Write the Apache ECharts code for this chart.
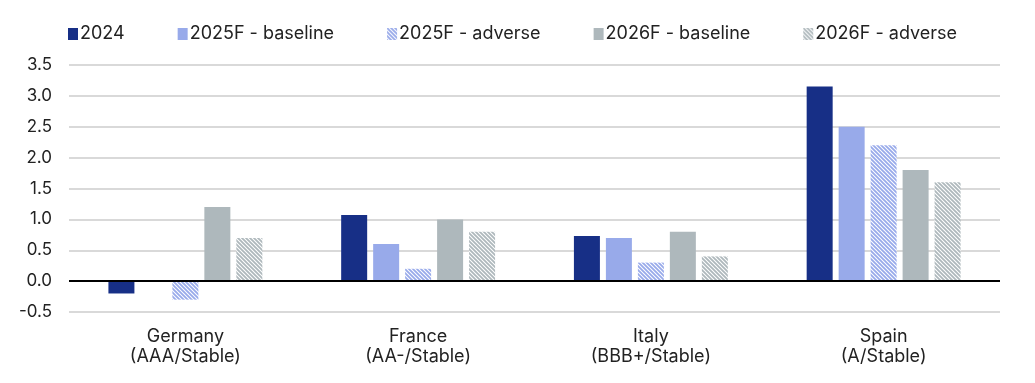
<!DOCTYPE html>
<html><head><meta charset="utf-8">
<script src="https://cdn.jsdelivr.net/npm/echarts@6/dist/echarts.min.js"></script>
<style>html,body{margin:0;padding:0;background:#fff}#c{width:1035px;height:383px}</style>
</head><body><div id="c"></div>
<script>
const categories = ['Germany\n(AAA/Stable)', 'France\n(AA-/Stable)', 'Italy\n(BBB+/Stable)', 'Spain\n(A/Stable)'];
const seriesNames = ['2024', '2025F - baseline', '2025F - adverse', '2026F - baseline', '2026F - adverse'];
const v2024 = [-0.2, 1.07, 0.73, 3.15];
const v2025Base = [0, 0.6, 0.7, 2.5];
const v2025Adv = [-0.3, 0.2, 0.3, 2.2];
const v2026Base = [1.2, 1.0, 0.8, 1.8];
const v2026Adv = [0.7, 0.8, 0.4, 1.6];
const yTicks = [-0.5, 0, 0.5, 1, 1.5, 2, 2.5, 3, 3.5];

function stripes(color) {
  const s = 4;
  const c = document.createElement('canvas');
  c.width = s; c.height = s;
  const g = c.getContext('2d');
  g.fillStyle = '#fff'; g.fillRect(0, 0, s, s);
  g.strokeStyle = color; g.lineWidth = 1.8;
  g.beginPath();
  g.moveTo(-1, -1); g.lineTo(s + 1, s + 1);
  g.moveTo(-1, s - 1); g.lineTo(1, s + 1);
  g.moveTo(s - 1, -1); g.lineTo(s + 1, 1);
  g.stroke();
  return { image: c, repeat: 'repeat' };
}

const colors = ['#172F86', '#98AAEA', stripes('#98AAEA'), '#AEB8BC', stripes('#AEB8BC')];
const values = [v2024, v2025Base, v2025Adv, v2026Base, v2026Adv];

const chart = echarts.init(document.getElementById('c'), null, { renderer: 'canvas' });
const font = 'Inter, "Noto Sans", sans-serif';
chart.setOption({
  animation: false,
  textStyle: { fontFamily: font },
  legend: {
    top: 20, left: 63, itemGap: 53, itemWidth: 10, itemHeight: 12,
    icon: 'rect',
    textStyle: { fontSize: 18, color: '#222', fontFamily: font, padding: [0, 0, 0, -3] },
    data: seriesNames
  },
  grid: { left: 69, right: 35, top: 65, bottom: 71 },
  xAxis: {
    type: 'category', data: categories,
    axisLine: { show: false }, axisTick: { show: false },
    axisLabel: { fontSize: 18, color: '#222', lineHeight: 20, margin: 15, fontFamily: font }
  },
  yAxis: {
    type: 'value', min: -0.5, max: 3.5, interval: 0.5,
    axisLabel: { fontSize: 17, color: '#222', margin: 17, fontFamily: font, formatter: v => v.toFixed(1) },
    splitLine: { lineStyle: { color: '#D9D9D9', width: 2 } },
    axisLine: { show: false }, axisTick: { show: false }
  },
  series: seriesNames.map((n, i) => ({
    name: n, type: 'bar', data: values[i], barWidth: 26, barGap: '23%',
    itemStyle: { color: colors[i] },
    markLine: i === 0 ? {
      silent: true, symbol: 'none', label: { show: false },
      lineStyle: { color: '#000', width: 2, type: 'solid' },
      data: [{ yAxis: 0 }]
    } : undefined
  }))
});
</script></body></html>
